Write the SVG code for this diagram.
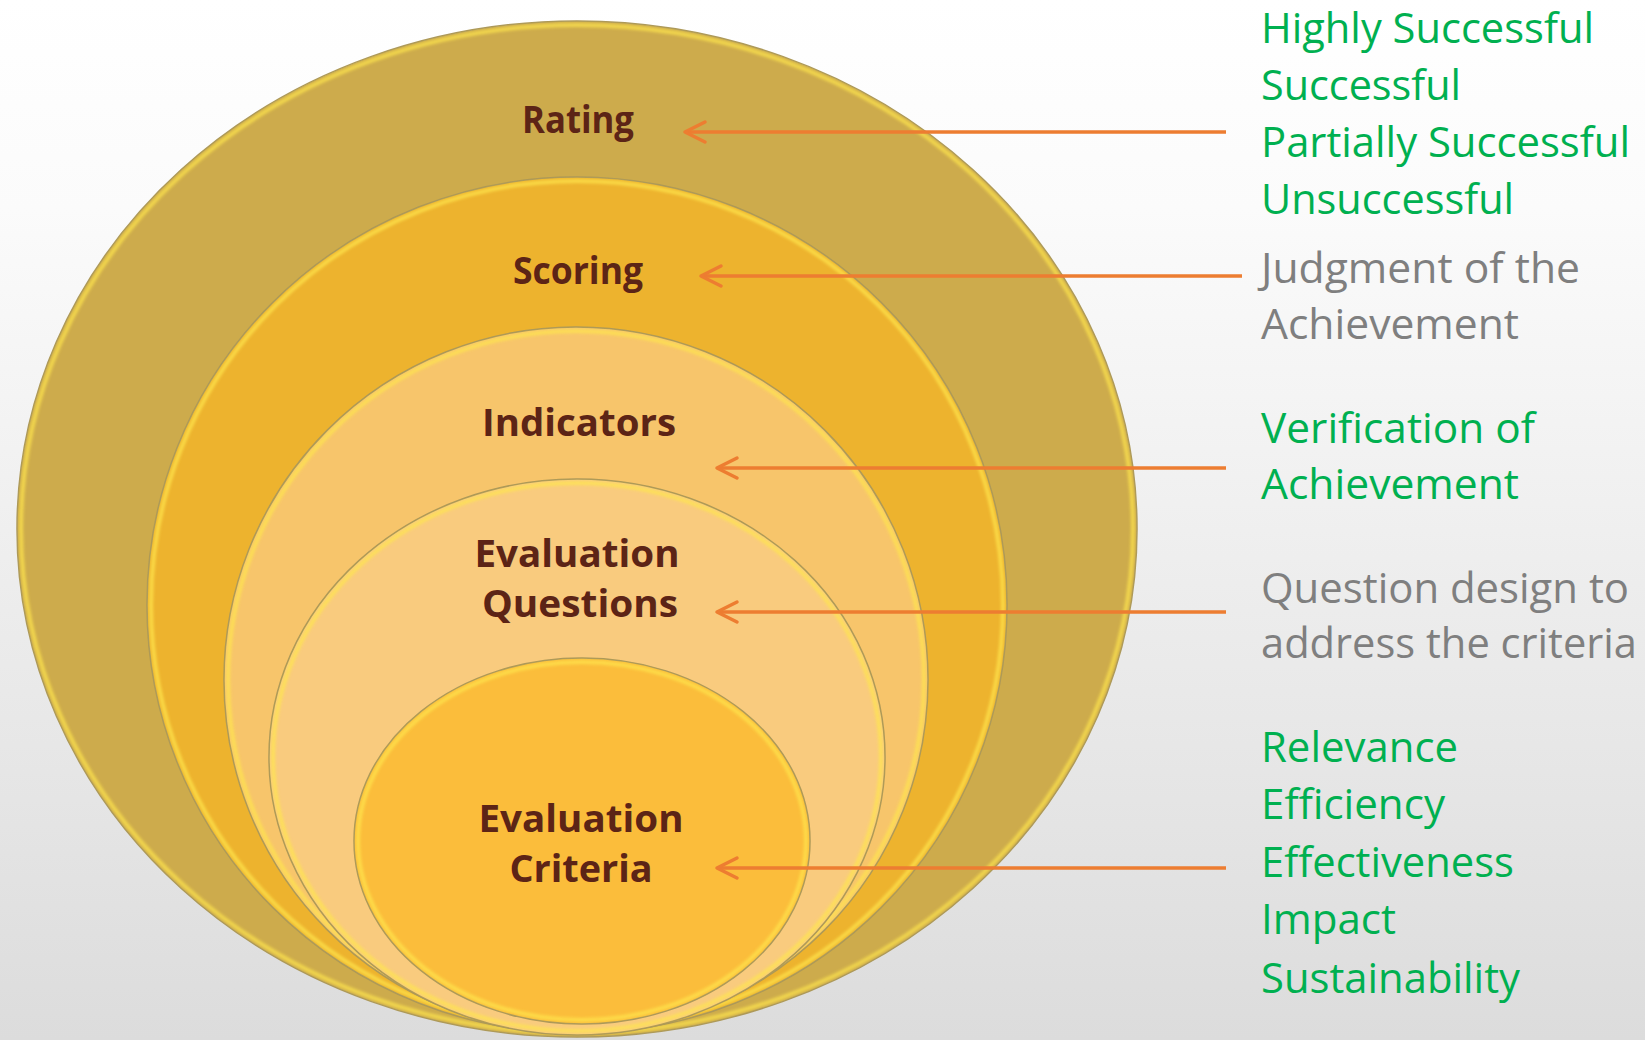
<svg xmlns="http://www.w3.org/2000/svg" width="1645" height="1040" viewBox="0 0 1645 1040">
  <style>
    .lbl { font-family: "Open Sans", "Liberation Sans", sans-serif; font-weight: 700; font-size: 37px; fill: #5C2416; text-anchor: middle; }
    .rt { font-family: "Open Sans", "Liberation Sans", sans-serif; font-size: 42px; }
    .g { fill: #00B050; }
    .k { fill: #7F7F7F; }
    .ring { stroke: #A99559; stroke-width: 1.5; }
    .hl { fill: none; stroke: #FFE64D; stroke-width: 4; opacity: 0.75; filter: url(#blur); }
    .arrow { fill: none; stroke: #ED7D31; stroke-width: 3.5; marker-end: url(#chev); }
  </style>
  <defs>
    <linearGradient id="bg" x1="0" y1="0" x2="0" y2="1">
      <stop offset="0" stop-color="#FFFFFF"/>
      <stop offset="0.2" stop-color="#FBFBFB"/>
      <stop offset="1" stop-color="#DCDCDC"/>
    </linearGradient>
    <filter id="blur" x="-5%" y="-5%" width="110%" height="110%">
      <feGaussianBlur stdDeviation="1.8"/>
    </filter>
    <marker id="chev" markerUnits="userSpaceOnUse" viewBox="0 0 26 26" markerWidth="26" markerHeight="26" refX="23" refY="13" orient="auto">
      <path d="M3,3 L23,13 L3,23" fill="none" stroke="#ED7D31" stroke-width="3.5" stroke-linecap="round" stroke-linejoin="round"/>
    </marker>
  </defs>

  <rect x="0" y="0" width="1645" height="1040" fill="url(#bg)"/>

  <g id="rating">
    <ellipse class="ring" cx="577" cy="529" rx="560" ry="508" fill="#CDAB4C"/>
    <ellipse class="hl" cx="577" cy="529" rx="556" ry="504"/>
    <text class="lbl" x="578" y="133" textLength="112" lengthAdjust="spacingAndGlyphs">Rating</text>
  </g>
  <g id="scoring">
    <ellipse class="ring" cx="577" cy="605" rx="430" ry="428" fill="#EDB32E"/>
    <ellipse class="hl" cx="577" cy="605" rx="426" ry="424"/>
    <text class="lbl" x="578" y="284" textLength="130" lengthAdjust="spacingAndGlyphs">Scoring</text>
  </g>
  <g id="indicators">
    <ellipse class="ring" cx="576" cy="680" rx="352" ry="353" fill="#F7C56B"/>
    <ellipse class="hl" cx="576" cy="680" rx="348" ry="349"/>
    <text class="lbl" x="579" y="436" textLength="194" lengthAdjust="spacingAndGlyphs">Indicators</text>
  </g>
  <g id="questions">
    <ellipse class="ring" cx="577" cy="757" rx="308" ry="278" fill="#F9CB7E"/>
    <ellipse class="hl" cx="577" cy="757" rx="304" ry="274"/>
    <text class="lbl" x="577" y="567" textLength="205" lengthAdjust="spacingAndGlyphs">Evaluation</text>
    <text class="lbl" x="580" y="617" textLength="196" lengthAdjust="spacingAndGlyphs">Questions</text>
  </g>
  <g id="criteria">
    <ellipse class="ring" cx="582" cy="841" rx="228" ry="183" fill="#FBBD3B"/>
    <ellipse class="hl" cx="582" cy="841" rx="224" ry="179"/>
    <text class="lbl" x="581" y="832" textLength="205" lengthAdjust="spacingAndGlyphs">Evaluation</text>
    <text class="lbl" x="581" y="882" textLength="143" lengthAdjust="spacingAndGlyphs">Criteria</text>
  </g>

  <g id="connectors">
    <path class="arrow" d="M1226,132 H685"/>
    <path class="arrow" d="M1242,276 H701"/>
    <path class="arrow" d="M1226,468 H717"/>
    <path class="arrow" d="M1226,612 H717"/>
    <path class="arrow" d="M1226,868 H717"/>
  </g>

  <g id="rating-desc" class="rt g">
    <text x="1261" y="43" textLength="333" lengthAdjust="spacingAndGlyphs">Highly Successful</text>
    <text x="1261" y="100" textLength="200" lengthAdjust="spacingAndGlyphs">Successful</text>
    <text x="1261" y="157" textLength="369" lengthAdjust="spacingAndGlyphs">Partially Successful</text>
    <text x="1261" y="214" textLength="253" lengthAdjust="spacingAndGlyphs">Unsuccessful</text>
  </g>
  <g id="scoring-desc" class="rt k">
    <text x="1261" y="283" textLength="319" lengthAdjust="spacingAndGlyphs">Judgment of the</text>
    <text x="1261" y="339" textLength="258" lengthAdjust="spacingAndGlyphs">Achievement</text>
  </g>
  <g id="indicators-desc" class="rt g">
    <text x="1261" y="443" textLength="274" lengthAdjust="spacingAndGlyphs">Verification of</text>
    <text x="1261" y="499" textLength="258" lengthAdjust="spacingAndGlyphs">Achievement</text>
  </g>
  <g id="questions-desc" class="rt k">
    <text x="1261" y="603" textLength="368" lengthAdjust="spacingAndGlyphs">Question design to</text>
    <text x="1261" y="658" textLength="376" lengthAdjust="spacingAndGlyphs">address the criteria</text>
  </g>
  <g id="criteria-desc" class="rt g">
    <text x="1261" y="762" textLength="197" lengthAdjust="spacingAndGlyphs">Relevance</text>
    <text x="1261" y="819" textLength="184" lengthAdjust="spacingAndGlyphs">Efficiency</text>
    <text x="1261" y="877" textLength="253" lengthAdjust="spacingAndGlyphs">Effectiveness</text>
    <text x="1261" y="934" textLength="135" lengthAdjust="spacingAndGlyphs">Impact</text>
    <text x="1261" y="993" textLength="259" lengthAdjust="spacingAndGlyphs">Sustainability</text>
  </g>
</svg>
